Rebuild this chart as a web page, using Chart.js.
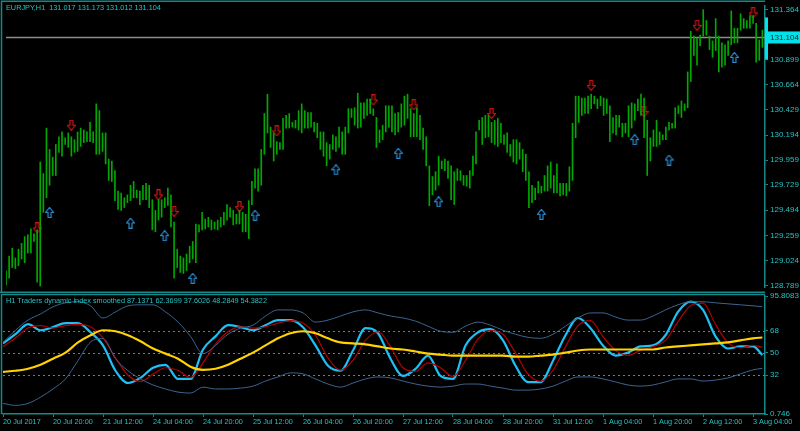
<!DOCTYPE html>
<html>
<head>
<meta charset="utf-8">
<script src="https://cdn.jsdelivr.net/npm/chart.js@4.4.0/dist/chart.umd.min.js"></script>
<style>
  html, body { margin: 0; padding: 0; background: #000; }
  #wrap { position: relative; width: 800px; height: 431px; overflow: hidden; background: #000; }
  canvas { position: absolute; left: 0; }
  #price { top: 0; }
  #tdi { top: 293px; }
</style>
</head>
<body>
<div id="wrap">
  <canvas id="price" width="800" height="293"></canvas>
  <canvas id="tdi" width="800" height="138"></canvas>
</div>
<script>
// EURJPY H1 bars, 20 Jul 04:00 .. 3 Aug 07:00 (one entry per bar)
const barHigh = [
  128.931, 129.066, 129.139, 129.048, 129.130, 129.184, 129.247, 129.265, 129.319, 129.274,
  129.310, 129.943, 129.835, 130.259, 130.060, 129.988, 130.106, 130.178, 130.223, 130.169,
  130.214, 130.178, 130.151, 130.223, 130.259, 130.241, 130.223, 130.313, 130.223, 130.485,
  130.422, 130.214, 130.214, 129.970, 129.952, 129.862, 129.672, 129.654, 129.609, 129.636,
  129.726, 129.762, 129.681, 129.672, 129.726, 129.744, 129.726, 129.591, 129.491, 129.591,
  129.591, 129.609, 129.699, 129.636, 129.383, 129.130, 129.066, 129.048, 129.085, 129.157,
  129.202, 129.365, 129.356, 129.473, 129.410, 129.428, 129.401, 129.383, 129.401, 129.428,
  129.473, 129.546, 129.518, 129.491, 129.455, 129.491, 129.473, 129.455, 129.582, 129.762,
  129.880, 129.880, 130.060, 130.395, 130.575, 130.268, 130.214, 130.133, 130.124, 130.350,
  130.377, 130.395, 130.313, 130.331, 130.422, 130.485, 130.422, 130.404, 130.404, 130.313,
  130.304, 130.223, 130.223, 130.124, 130.106, 130.196, 130.178, 130.268, 130.223, 130.268,
  130.440, 130.440, 130.449, 130.584, 130.494, 130.494, 130.530, 130.530, 130.440, 130.358,
  130.241, 130.286, 130.467, 130.467, 130.467, 130.395, 130.404, 130.485, 130.557, 130.575,
  130.440, 130.395, 130.449, 130.377, 130.259, 130.178, 129.907, 129.807, 129.852, 129.997,
  129.952, 129.970, 129.952, 129.907, 129.852, 129.880, 129.862, 129.817, 129.817, 129.862,
  129.997, 130.223, 130.331, 130.358, 130.377, 130.377, 130.313, 130.331, 130.349, 130.304,
  130.196, 130.214, 130.106, 130.151, 130.151, 130.124, 130.060, 130.015, 129.852, 129.726,
  129.699, 129.762, 129.717, 129.817, 129.907, 129.943, 129.817, 129.925, 129.744, 129.744,
  129.744, 129.898, 130.304, 130.557, 130.557, 130.539, 130.539, 130.557, 130.575, 130.557,
  130.530, 130.557, 130.539, 130.530, 130.467, 130.358, 130.377, 130.377, 130.304, 130.304,
  130.467, 130.494, 130.485, 130.530, 130.575, 130.539, 130.331, 130.169, 130.241, 130.331,
  130.223, 130.196, 130.268, 130.313, 130.304, 130.449, 130.467, 130.512, 130.485, 130.783,
  131.162, 131.117, 131.099, 131.126, 131.364, 131.262, 131.117, 131.072, 131.280, 131.117,
  131.054, 131.036, 131.072, 131.352, 131.190, 131.190, 131.325, 131.280, 131.262, 131.307,
  131.307, 131.235, 131.081, 131.173
];
const barLow = [
  128.795, 128.859, 128.958, 128.949, 128.976, 129.039, 129.003, 129.094, 129.094, 129.202,
  128.823, 128.786, 129.473, 129.609, 129.726, 129.817, 129.817, 130.033, 129.997, 130.106,
  130.079, 129.997, 130.033, 130.042, 130.088, 130.124, 130.133, 130.133, 130.124, 130.015,
  130.015, 130.042, 129.925, 129.771, 129.762, 129.582, 129.500, 129.491, 129.518, 129.564,
  129.582, 129.609, 129.609, 129.546, 129.591, 129.591, 129.518, 129.310, 129.292, 129.401,
  129.428, 129.518, 129.537, 129.337, 128.859, 128.958, 128.913, 128.904, 128.931, 129.003,
  129.039, 129.003, 129.292, 129.310, 129.319, 129.337, 129.310, 129.319, 129.310, 129.337,
  129.356, 129.401, 129.428, 129.356, 129.365, 129.365, 129.292, 129.292, 129.229, 129.546,
  129.699, 129.672, 129.726, 130.015, 130.214, 130.079, 129.952, 130.015, 130.060, 130.060,
  130.259, 130.259, 130.268, 130.259, 130.241, 130.214, 130.259, 130.259, 130.268, 130.223,
  130.169, 130.060, 129.997, 129.907, 129.970, 130.060, 130.042, 130.079, 130.015, 130.015,
  130.214, 130.358, 130.286, 130.259, 130.268, 130.350, 130.377, 130.395, 130.377, 130.079,
  130.124, 130.151, 130.223, 130.268, 130.223, 130.196, 130.223, 130.268, 130.286, 130.350,
  130.178, 130.178, 130.178, 130.151, 130.060, 129.907, 129.536, 129.636, 129.681, 129.726,
  129.880, 129.862, 129.789, 129.591, 129.546, 129.771, 129.771, 129.726, 129.717, 129.699,
  129.817, 129.925, 130.241, 130.106, 130.169, 130.178, 130.124, 130.106, 130.088, 130.124,
  130.106, 130.033, 129.997, 129.943, 129.925, 129.970, 129.852, 129.771, 129.518, 129.564,
  129.591, 129.654, 129.654, 129.672, 129.672, 129.699, 129.654, 129.654, 129.627, 129.636,
  129.627, 129.672, 129.771, 130.169, 130.313, 130.377, 130.395, 130.395, 130.440, 130.485,
  130.440, 130.467, 130.377, 130.395, 130.133, 130.214, 130.196, 130.268, 130.178, 130.214,
  130.178, 130.259, 130.331, 130.422, 130.377, 130.169, 129.817, 129.952, 130.088, 130.088,
  130.106, 130.151, 130.151, 130.241, 130.259, 130.259, 130.395, 130.358, 130.422, 130.449,
  130.693, 130.936, 130.846, 131.027, 131.117, 131.126, 130.991, 130.919, 130.982, 130.783,
  130.828, 130.846, 130.936, 131.036, 131.054, 131.054, 131.172, 131.190, 131.190, 131.190,
  131.235, 130.873, 130.891, 131.012
];

// signal arrows (bar index + price)
const sellBars = [10, 21, 49, 54, 75, 87, 118, 131, 156, 188, 205, 222, 240];
const sellPrices = [129.328, 130.286, 129.636, 129.482, 129.527, 130.232, 130.521, 130.476, 130.395, 130.657, 130.413, 131.217, 131.334];
const buyBars = [14, 40, 51, 60, 80, 106, 126, 139, 172, 202, 213, 234];
const buyPrices = [129.473, 129.374, 129.256, 128.858, 129.446, 129.870, 130.024, 129.572, 129.455, 130.151, 129.961, 130.918];

const priceTicks = [131.364, 130.899, 130.664, 130.429, 130.194, 129.959, 129.729, 129.494, 129.259, 129.024, 128.789];
const lastPrice = 131.104;
const titleText = 'EURJPY,H1  131.017 131.173 131.012 131.104';

const timeLabels = ['20 Jul 2017', '20 Jul 20:00', '21 Jul 12:00', '24 Jul 04:00', '24 Jul 20:00', '25 Jul 12:00',
  '26 Jul 04:00', '26 Jul 20:00', '27 Jul 12:00', '28 Jul 04:00', '28 Jul 20:00', '31 Jul 12:00',
  '1 Aug 04:00', '1 Aug 20:00', '2 Aug 12:00', '3 Aug 04:00'];

// Traders Dynamic Index, read every 4 bars
const tdiBars = [0, 4, 8, 12, 16, 20, 24, 28, 32, 36, 40, 44, 48, 52, 56, 60, 64, 68, 72, 76,
  80, 84, 88, 92, 96, 100, 104, 108, 112, 116, 120, 124, 128, 132, 136, 140, 144, 148, 152, 156,
  160, 164, 168, 172, 176, 180, 184, 188, 192, 196, 200, 204, 208, 212, 216, 220, 224, 228, 232, 236,
  240, 243];
const tdiUpper = [58.4, 68.2, 76.4, 81.3, 87.1, 90.3, 91.2, 87.9, 78.1, 83.0,
  87.9, 88.7, 88.7, 83.0, 74.8, 63.3, 49.4, 56.0, 65.0, 69.9,
  72.3, 79.7, 84.6, 84.6, 82.2, 74.8, 76.4, 79.7, 83.0, 84.6,
  82.2, 79.7, 78.1, 75.6, 71.5, 67.4, 66.6, 71.5, 74.8, 72.3,
  68.2, 65.0, 62.5, 61.7, 65.0, 71.5, 78.1, 82.2, 82.2, 78.9,
  76.4, 76.4, 79.7, 84.6, 88.7, 91.2, 91.2, 90.3, 89.5, 88.7,
  87.9, 87.14];
const tdiLower = [9.3, 7.7, 9.3, 14.3, 20.9, 29.0, 43.7, 58.7, 61.5, 45.3,
  35.6, 29.0, 24.1, 20.9, 18.4, 17.6, 22.4, 20.9, 20.9, 21.6,
  23.2, 27.3, 30.6, 33.9, 33.1, 29.0, 24.9, 22.4, 25.7, 29.0,
  30.6, 29.8, 27.3, 24.9, 23.2, 22.4, 23.2, 24.9, 24.9, 23.2,
  21.6, 20.0, 20.0, 20.9, 23.2, 27.3, 30.6, 30.6, 29.0, 26.6,
  24.1, 23.2, 24.1, 26.6, 29.0, 29.0, 27.3, 28.1, 29.8, 33.1,
  36.3, 37.60];
const tdiMiddle = [34.7, 35.6, 37.2, 40.4, 45.3, 50.2, 58.4, 64.2, 68.2, 67.4,
  64.2, 59.3, 53.5, 49.4, 45.3, 38.8, 36.3, 37.2, 40.4, 45.3,
  50.2, 56.0, 61.7, 65.8, 67.4, 65.8, 61.7, 58.4, 57.6, 56.8,
  55.2, 53.5, 52.7, 51.1, 49.4, 48.6, 47.8, 47.8, 47.8, 47.8,
  47.8, 47.0, 47.0, 47.8, 48.6, 50.2, 51.9, 52.7, 52.7, 52.7,
  52.7, 52.7, 52.7, 54.3, 55.2, 56.0, 56.8, 57.6, 58.4, 60.1,
  61.7, 62.37];
const tdiPrice = [57.6, 65.0, 73.2, 68.2, 70.7, 74.0, 74.0, 66.6, 56.0, 35.6,
  25.7, 29.8, 38.0, 40.4, 29.0, 29.0, 52.7, 63.3, 72.3, 70.7,
  68.2, 72.3, 76.4, 76.4, 70.7, 56.0, 39.6, 35.6, 51.9, 69.9,
  65.8, 45.3, 31.4, 37.1, 47.8, 31.4, 29.0, 56.0, 66.6, 69.1,
  60.1, 39.6, 26.4, 26.4, 43.7, 64.2, 78.1, 69.9, 56.0, 47.8,
  50.2, 55.2, 56.0, 64.2, 83.0, 91.2, 84.6, 63.3, 53.5, 55.2,
  55.2, 48.28];
const tdiSignal = [55, 62, 70, 72, 70, 72, 73, 71, 62, 46,
  32, 27, 33, 38, 36, 30, 42, 57, 67, 71,
  70, 71, 74, 76, 74, 64, 46, 36, 44, 60,
  67, 55, 38, 35, 42, 38, 31, 44, 61, 68,
  65, 50, 33, 27, 36, 55, 72, 76, 63, 52,
  48, 52, 55, 60, 75, 88, 90, 73, 58, 54,
  56, 54.38];
const tdiTicks = [95.8083, 68, 50, 32, 0.746];
const tdiLevels = [68, 50, 32];
const tdiTitle = 'H1 Traders dynamic index smoothed 87.1371 62.3699 37.6026 48.2849 54.3822';

const FRAME = '#148a8a';
const TEXT = '#22c4c4';
const FAMILY = 'Liberation Sans, Arial, sans-serif';
const FONT = { family: FAMILY, size: 8 };
const SMALL = { family: FAMILY, size: 7.3 };
const VISIBLE_BARS = 243.84;

function makeArrow(color, down) {
  const c = document.createElement('canvas');
  c.width = 9; c.height = 11;
  const g = c.getContext('2d');
  g.strokeStyle = color;
  g.lineWidth = 1.2;
  g.beginPath();
  if (down) {
    g.moveTo(3, 0.5); g.lineTo(6, 0.5); g.lineTo(6, 5.5); g.lineTo(8.5, 5.5);
    g.lineTo(4.5, 10.5); g.lineTo(0.5, 5.5); g.lineTo(3, 5.5);
  } else {
    g.moveTo(4.5, 0.5); g.lineTo(8.5, 5.5); g.lineTo(6, 5.5); g.lineTo(6, 10.5);
    g.lineTo(3, 10.5); g.lineTo(3, 5.5); g.lineTo(0.5, 5.5);
  }
  g.closePath();
  g.stroke();
  return c;
}

function fixAxis(w, h) {
  return (scale) => {
    if (w) scale.width = w;
    if (h) scale.height = h;
    scale.paddingTop = 0; scale.paddingBottom = 0;
    scale.paddingLeft = 0; scale.paddingRight = 0;
  };
}

// price panel extras: current price line, frame, title, price box
const pricePanel = {
  id: 'pricePanel',
  beforeDatasetsDraw(chart) {
    const { ctx, chartArea: a, scales: { y } } = chart;
    const py = Math.round(y.getPixelForValue(lastPrice)) + 0.5;
    ctx.save();
    ctx.strokeStyle = '#8c8c8c';
    ctx.lineWidth = 1.5;
    ctx.beginPath(); ctx.moveTo(a.left, py); ctx.lineTo(a.right, py); ctx.stroke();
    ctx.restore();
  },
  afterDraw(chart) {
    const { ctx, chartArea: a, scales: { y } } = chart;
    ctx.save();
    ctx.strokeStyle = FRAME;
    ctx.lineWidth = 1.5;
    ctx.beginPath();
    ctx.moveTo(1.5, chart.height); ctx.lineTo(1.5, 1.2); ctx.lineTo(a.right, 1.2);
    ctx.stroke();
    ctx.lineWidth = 2;
    ctx.beginPath(); ctx.moveTo(0, chart.height - 0.5); ctx.lineTo(a.right, chart.height - 0.5); ctx.stroke();
    const py = y.getPixelForValue(lastPrice);
    ctx.fillStyle = '#00e1ea';
    ctx.fillRect(a.right, py - 20, 3, 42);
    ctx.fillRect(a.right + 1, py - 6, 35, 12);
    ctx.fillStyle = '#062a2a';
    ctx.font = '8px ' + FAMILY;
    ctx.textBaseline = 'middle';
    ctx.fillText(lastPrice.toFixed(3), a.right + 5, py + 0.5);
    ctx.fillStyle = TEXT;
    ctx.font = '7.3px ' + FAMILY;
    ctx.fillText(titleText, 6, 8);
    ctx.restore();
  }
};

const tdiPanel = {
  id: 'tdiPanel',
  beforeDatasetsDraw(chart) {
    const { ctx, chartArea: a, scales: { y } } = chart;
    ctx.save();
    ctx.strokeStyle = '#7a7a7a';
    ctx.lineWidth = 1;
    ctx.setLineDash([2, 3]);
    tdiLevels.forEach((lv) => {
      const py = Math.round(y.getPixelForValue(lv)) + 0.5;
      ctx.beginPath(); ctx.moveTo(a.left, py); ctx.lineTo(a.right, py); ctx.stroke();
    });
    ctx.restore();
  },
  afterDraw(chart) {
    const { ctx, chartArea: a } = chart;
    ctx.save();
    ctx.strokeStyle = FRAME;
    ctx.lineWidth = 1.5;
    ctx.beginPath();
    ctx.moveTo(1.5, a.bottom); ctx.lineTo(1.5, 1.5); ctx.lineTo(a.right, 1.5);
    ctx.stroke();
    ctx.fillStyle = TEXT;
    ctx.font = '7.3px ' + FAMILY;
    ctx.textBaseline = 'middle';
    ctx.fillText(tdiTitle, 6, 8);
    ctx.restore();
  }
};

const priceChart = new Chart(document.getElementById('price'), {
  type: 'bar',
  data: {
    datasets: [
      {
        type: 'bar',
        data: barHigh.map((h, i) => ({ x: i, y: [barLow[i], h] })),
        backgroundColor: '#00a800',
        borderWidth: 0,
        barThickness: 1,
        grouped: false
      },
      {
        type: 'scatter',
        data: sellBars.map((b, k) => ({ x: b, y: sellPrices[k] })),
        pointStyle: makeArrow('#d01414', true),
        pointRadius: 5
      },
      {
        type: 'scatter',
        data: buyBars.map((b, k) => ({ x: b, y: buyPrices[k] })),
        pointStyle: makeArrow('#2b8fd6', false),
        pointRadius: 5
      }
    ]
  },
  options: {
    responsive: false,
    animation: false,
    layout: { padding: { left: 3, top: 2, right: 0, bottom: 1 } },
    plugins: { legend: { display: false }, tooltip: { enabled: false } },
    scales: {
      x: { type: 'linear', min: 0, max: VISIBLE_BARS, offset: false, display: false },
      y: {
        position: 'right',
        min: 128.7773,
        max: 131.3974,
        afterBuildTicks: (scale) => { scale.ticks = priceTicks.map((v) => ({ value: v })); },
        afterFit: fixAxis(35, 0),
        ticks: { color: TEXT, font: FONT, padding: 2, callback: (v) => Number(v).toFixed(3) },
        grid: { drawOnChartArea: false, drawTicks: true, tickLength: 3, color: FRAME },
        border: { display: true, color: FRAME, width: 1.5 }
      }
    }
  },
  plugins: [pricePanel]
});

const tdiChart = new Chart(document.getElementById('tdi'), {
  type: 'line',
  data: {
    datasets: [
      { data: tdiBars.map((x, k) => ({ x, y: tdiUpper[k] })), borderColor: '#3c6491', borderWidth: 1 },
      { data: tdiBars.map((x, k) => ({ x, y: tdiLower[k] })), borderColor: '#3c6491', borderWidth: 1 },
      { data: tdiBars.map((x, k) => ({ x, y: tdiMiddle[k] })), borderColor: '#ffd200', borderWidth: 2.2 },
      { data: tdiBars.map((x, k) => ({ x, y: tdiSignal[k] })), borderColor: '#b40000', borderWidth: 1.2 },
      { data: tdiBars.map((x, k) => ({ x, y: tdiPrice[k] })), borderColor: '#1ec0f5', borderWidth: 2.2 }
    ]
  },
  options: {
    responsive: false,
    animation: false,
    layout: { padding: { left: 3, top: 3, right: 0, bottom: 0 } },
    elements: { point: { radius: 0 }, line: { cubicInterpolationMode: 'monotone' } },
    plugins: { legend: { display: false }, tooltip: { enabled: false } },
    scales: {
      x: {
        type: 'linear',
        min: 0,
        max: VISIBLE_BARS,
        afterBuildTicks: (scale) => { scale.ticks = timeLabels.map((_, k) => ({ value: k * 16 })); },
        afterFit: fixAxis(0, 17),
        ticks: {
          color: TEXT, font: SMALL, align: 'start', autoSkip: false, maxRotation: 0, minRotation: 0, padding: 1,
          callback: (v) => timeLabels[Math.round(v / 16)]
        },
        grid: { drawOnChartArea: false, drawTicks: true, tickLength: 3, color: FRAME },
        border: { display: true, color: FRAME, width: 1.5 }
      },
      y: {
        position: 'right',
        min: 0.746,
        max: 95.8083,
        afterBuildTicks: (scale) => { scale.ticks = tdiTicks.map((v) => ({ value: v })); },
        afterFit: fixAxis(35, 0),
        ticks: { color: TEXT, font: FONT, padding: 2, callback: (v) => String(v) },
        grid: { drawOnChartArea: false, drawTicks: true, tickLength: 3, color: FRAME },
        border: { display: true, color: FRAME, width: 1.5 }
      }
    }
  },
  plugins: [tdiPanel]
});
</script>
</body>
</html>
